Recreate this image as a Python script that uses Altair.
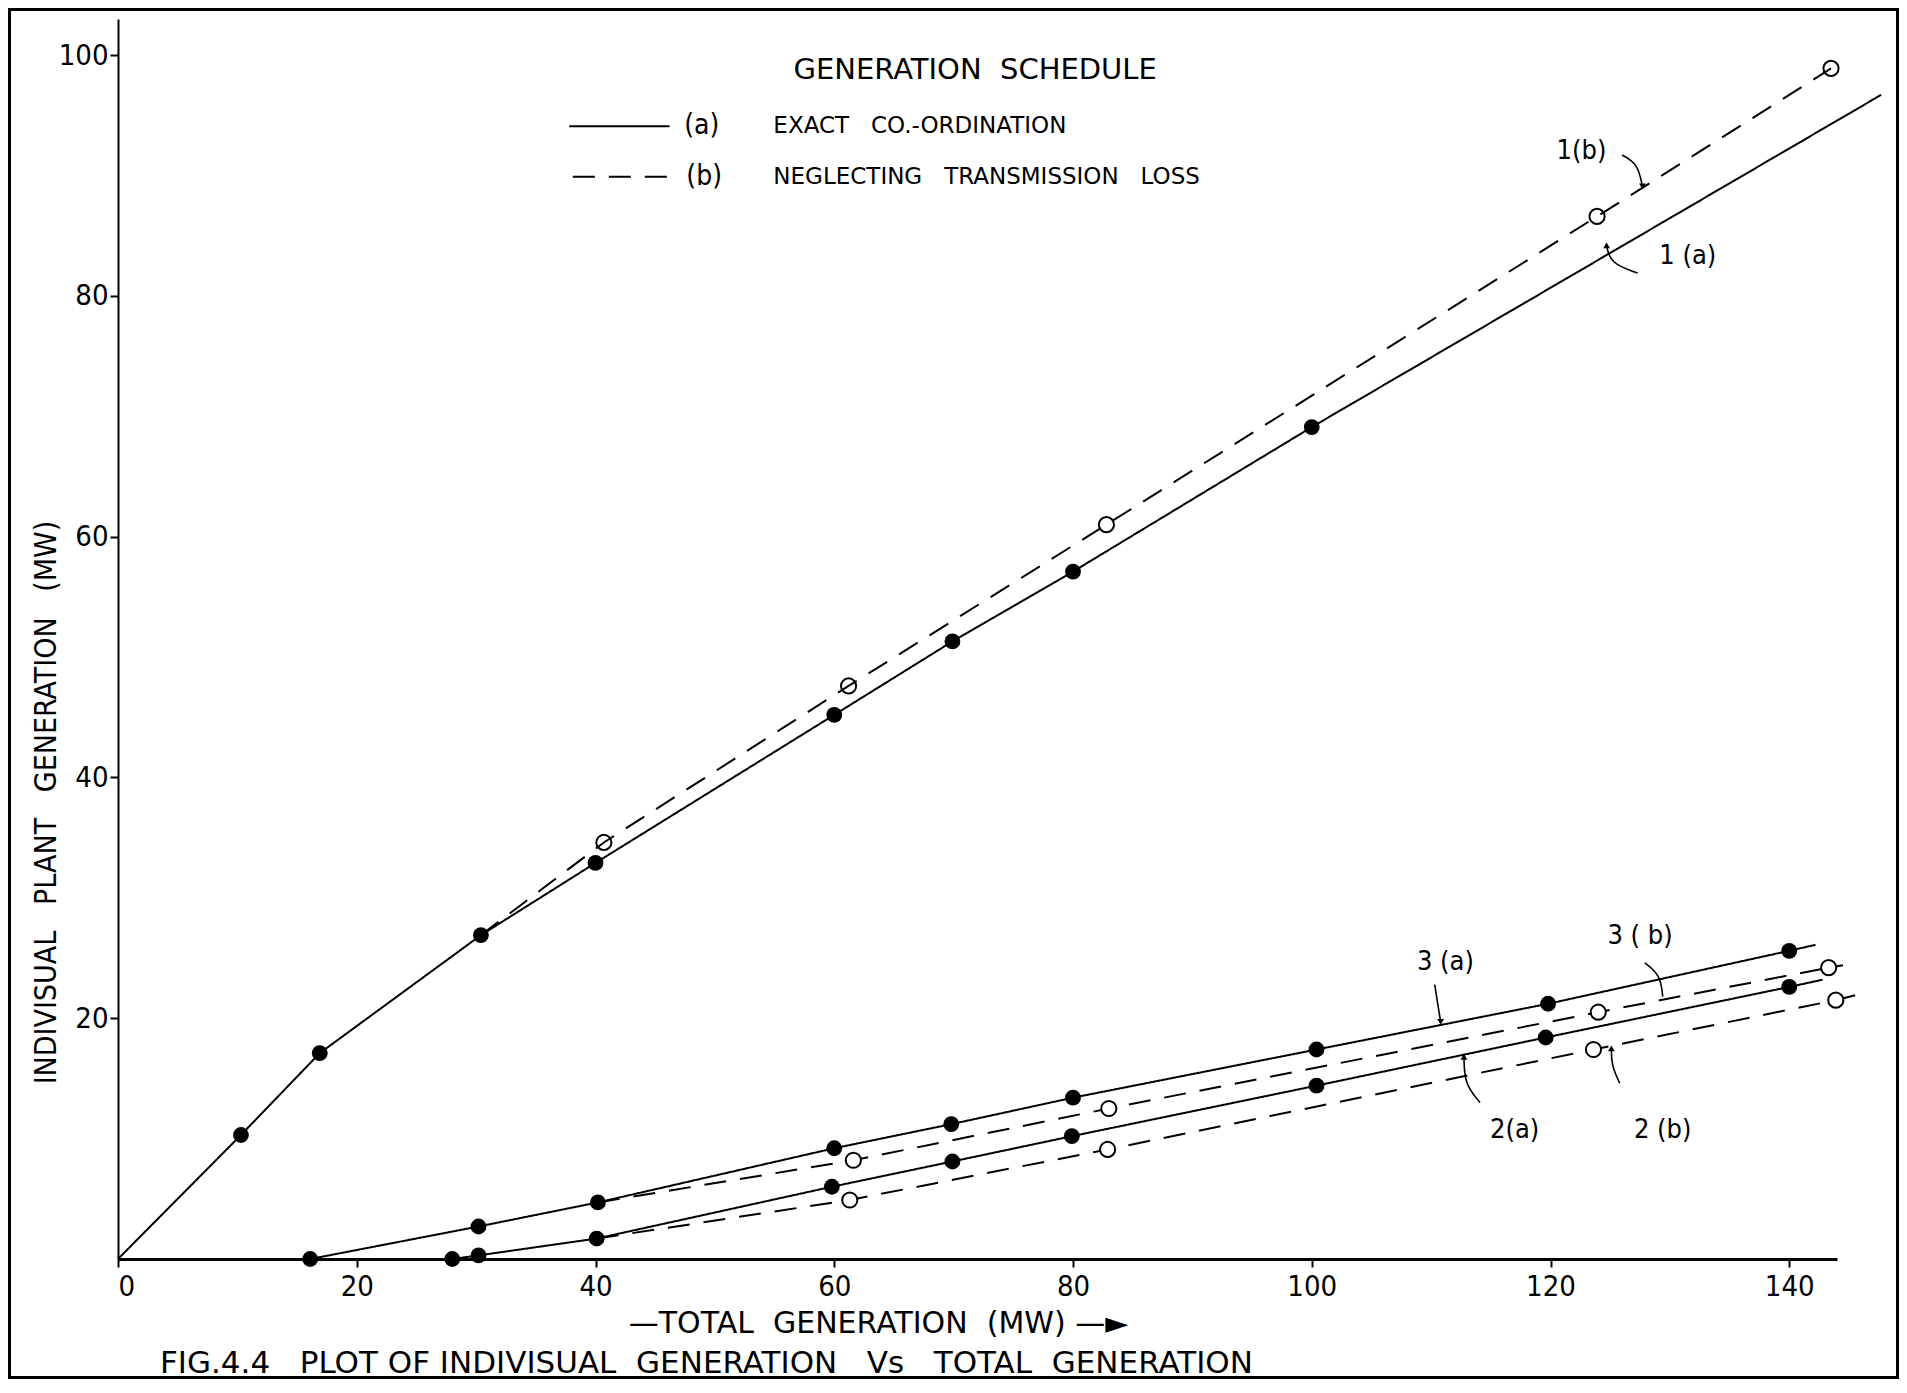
import altair as alt
import pandas as pd

# ---------------- values ----------------
x_ticks = [0, 20, 40, 60, 80, 100, 120, 140]
y_ticks = [20, 40, 60, 80, 100]

# Plant 1 (a) exact co-ordination
p1a_x = [0.0, 10.3, 16.9, 30.4, 40.0, 60.0, 69.9, 80.0, 100.0, 147.7]
p1a_y = [0.0, 10.3, 17.1, 26.9, 32.9, 45.2, 51.3, 57.1, 69.1, 96.7]
p1a_m = [False, True, True, True, True, True, True, True, True, False]
# Plant 1 (b) neglecting transmission loss
p1b_x = [30.4, 40.7, 61.2, 82.8, 123.9, 143.5]
p1b_y = [26.9, 34.6, 47.6, 61.0, 86.6, 98.9]
p1b_m = [False, True, True, True, True, True]
# Plant 2 (a)
p2a_x = [28.0, 30.2, 40.1, 59.8, 69.9, 79.9, 100.4, 119.6, 140.0, 142.8]
p2a_y = [0.0, 0.3, 1.7, 6.0, 8.1, 10.2, 14.4, 18.4, 22.6, 23.2]
p2a_m = [True, True, True, True, True, True, True, True, True, False]
# Plant 2 (b)
p2b_x = [40.1, 61.3, 82.9, 123.6, 143.9, 145.9]
p2b_y = [1.7, 4.9, 9.1, 17.4, 21.5, 22.0]
p2b_m = [False, True, True, True, True, False]
# Plant 3 (a)
p3a_x = [16.1, 30.2, 40.2, 60.0, 69.8, 80.0, 100.4, 119.8, 140.0, 142.2]
p3a_y = [0.0, 2.7, 4.7, 9.2, 11.2, 13.4, 17.4, 21.2, 25.6, 26.1]
p3a_m = [True, True, True, True, True, True, True, True, True, False]
# Plant 3 (b)
p3b_x = [40.2, 61.6, 83.0, 124.0, 143.3, 144.5]
p3b_y = [4.7, 8.2, 12.5, 20.5, 24.2, 24.4]
p3b_m = [False, True, True, True, True, False]

series_names = ["1(a)", "1(b)", "2(a)", "2(b)", "3(a)", "3(b)"]
series_method = ["a", "b", "a", "b", "a", "b"]
series_x = [p1a_x, p1b_x, p2a_x, p2b_x, p3a_x, p3b_x]
series_y = [p1a_y, p1b_y, p2a_y, p2b_y, p3a_y, p3b_y]
series_m = [p1a_m, p1b_m, p2a_m, p2b_m, p3a_m, p3b_m]

# annotation texts (anchored in data units)
curve_labels = ["1(b)", "1 (a)", "3 (a)", "3 ( b)", "2(a)", "2 (b)"]
curve_label_x = [122.6, 131.5, 111.2, 127.5, 117.0, 129.4]
curve_label_y = [92.0, 83.3, 24.7, 26.8, 10.7, 10.7]

# annotation arrows (anchored in data units)
arrow_id = ["1b", "1b", "1b", "1a", "1a", "1a", "3a", "3a", "3a",
            "3b", "3b", "3b", "2a", "2a", "2a", "2b", "2b", "2b"]
arrow_x = [126.0, 127.3, 127.7, 127.3, 125.0, 124.7, 110.3, 110.5, 110.8,
           127.9, 129.2, 129.4, 114.1, 112.8, 112.75, 125.8, 125.1, 125.1]
arrow_y = [91.7, 91.0, 89.1, 81.9, 82.7, 84.2, 22.8, 21.5, 19.7,
           24.6, 23.6, 21.8, 13.0, 14.5, 16.8, 14.6, 16.1, 17.5]
head_x = [127.7, 124.7, 110.8, 112.75, 125.1]
head_y = [89.1, 84.2, 19.7, 16.8, 17.5]
head_dir = ["down", "up", "down", "up", "up"]

NB = "\u00a0"
legend_title = "GENERATION" + NB * 2 + "SCHEDULE"
legend_tags = ["(a)", "(b)"]
legend_texts = ["EXACT" + NB * 3 + "CO.-ORDINATION",
                "NEGLECTING" + NB * 3 + "TRANSMISSION" + NB * 3 + "LOSS"]
legend_methods = ["a", "b"]
legend_line_x = [[37.8, 46.2], [38.1, 46.6]]
legend_row_y = [94.1, 89.9]
legend_tag_x = [48.9, 49.1]
legend_text_x = 54.9
legend_title_xy = (71.8, 98.8)

x_title = "\u2014TOTAL" + NB * 2 + "GENERATION" + NB * 2 + "(MW)" + NB + "\u2014\u25ba"
y_title = "INDIVISUAL" + NB * 3 + "PLANT" + NB * 3 + "GENERATION" + NB * 3 + "(MW)"
caption = ("FIG.4.4" + NB * 3 + "PLOT" + NB + "OF" + NB + "INDIVISUAL" + NB * 2 + "GENERATION"
           + NB * 3 + "Vs" + NB * 3 + "TOTAL" + NB * 2 + "GENERATION")

# ---------------- tables ----------------
rows = []
for name, meth, xs, ys, ms in zip(series_names, series_method, series_x, series_y, series_m):
    for xv, yv, mv in zip(xs, ys, ms):
        rows.append({"series": name, "method": meth, "x": xv, "y": yv, "marker": mv})
df = pd.DataFrame(rows)

leg_rows = []
for meth, xs, yv in zip(legend_methods, legend_line_x, legend_row_y):
    for xv in xs:
        leg_rows.append({"series": "leg" + meth, "method": meth, "x": xv, "y": yv})
leg_df = pd.DataFrame(leg_rows)

tag_df = pd.DataFrame({"text": legend_tags, "x": legend_tag_x, "y": legend_row_y})
ltext_df = pd.DataFrame({"text": legend_texts, "x": [legend_text_x] * 2, "y": legend_row_y})
title_df = pd.DataFrame({"text": [legend_title], "x": [legend_title_xy[0]], "y": [legend_title_xy[1]]})
clab_df = pd.DataFrame({"text": curve_labels, "x": curve_label_x, "y": curve_label_y})
arrow_df = pd.DataFrame({"id": arrow_id, "x": arrow_x, "y": arrow_y,
                         "o": list(range(len(arrow_x)))})
head_df = pd.DataFrame({"x": head_x, "y": head_y, "dir": head_dir})

# ---------------- styling ----------------
NARROW = "DejaVu Sans Condensed, Liberation Sans Narrow, DejaVu Sans, sans-serif"
WIDE = "DejaVu Sans, sans-serif"
W, H = 1719, 1240

X = alt.X("x:Q", scale=alt.Scale(domain=[0, 144], nice=False, zero=False),
          axis=alt.Axis(values=x_ticks, title=x_title, grid=False,
                        domainColor="black", domainWidth=3,
                        tickColor="black", tickWidth=2, tickSize=8,
                        labelFont=NARROW, labelFontSize=29, labelColor="black",
                        labelPadding=5,
                        titleFont=WIDE, titleFontSize=30, titleFontWeight="normal",
                        titleColor="black", titleX=760, titleY=64,
                        titleAlign="center", titleBaseline="middle"))
Y = alt.Y("y:Q", scale=alt.Scale(domain=[0, 103], nice=False, zero=False),
          axis=alt.Axis(values=y_ticks, title=y_title, grid=False,
                        domainColor="black", domainWidth=2,
                        tickColor="black", tickWidth=2, tickSize=8,
                        labelFont=NARROW, labelFontSize=29, labelColor="black",
                        labelPadding=2,
                        titleFont=NARROW, titleFontSize=30, titleFontWeight="normal",
                        titleColor="black", titleX=-71.5, titleY=783,
                        titleAngle=270, titleAlign="center", titleBaseline="middle"))

DASH = alt.StrokeDash("method:N", scale=alt.Scale(domain=["a", "b"], range=[[1, 0], [22, 14]]),
                      legend=None)

lines = alt.Chart(df).mark_line(color="black", strokeWidth=2).encode(
    x=X, y=Y, detail="series:N", strokeDash=DASH, order="x:Q")

filled_pts = alt.Chart(df).transform_filter(
    (alt.datum.marker == True) & (alt.datum.method == "a")
).mark_point(filled=True, color="black", size=250, opacity=1, shape="circle").encode(x=X, y=Y)

open_pts = alt.Chart(df).transform_filter(
    (alt.datum.marker == True) & (alt.datum.method == "b")
).mark_point(shape="circle", size=230, strokeWidth=2, color="black", opacity=1).encode(
    x=X, y=Y,
    fill=alt.condition(alt.datum.series == "1(b)", alt.value("transparent"), alt.value("white")))

leg_lines = alt.Chart(leg_df).mark_line(color="black", strokeWidth=2).encode(
    x=X, y=Y, detail="series:N", strokeDash=DASH)

title_txt = alt.Chart(title_df).mark_text(font=WIDE, fontSize=29, color="black",
                                          align="center", baseline="middle").encode(
    x=X, y=Y, text="text:N")
tag_txt = alt.Chart(tag_df).mark_text(font=NARROW, fontSize=28, color="black",
                                      align="center", baseline="middle").encode(
    x=X, y=Y, text="text:N")
leg_txt = alt.Chart(ltext_df).mark_text(font=WIDE, fontSize=23, color="black",
                                        align="left", baseline="middle").encode(
    x=X, y=Y, text="text:N")
clab_txt = alt.Chart(clab_df).mark_text(font=NARROW, fontSize=27, color="black",
                                        align="center", baseline="middle").encode(
    x=X, y=Y, text="text:N")

arrows = alt.Chart(arrow_df).mark_line(color="black", strokeWidth=1.6,
                                       interpolate="basis").encode(
    x=X, y=Y, detail="id:N", order="o:Q")
heads = alt.Chart(head_df).mark_point(filled=True, color="black", size=45, opacity=1).encode(
    x=X, y=Y,
    shape=alt.Shape("dir:N", scale=alt.Scale(domain=["down", "up"],
                                             range=["triangle-down", "triangle-up"]),
                    legend=None))

one = pd.DataFrame({"text": [caption]})
frame = alt.Chart(one).mark_rect(
    fillOpacity=0, stroke="black", strokeWidth=3).encode(
    x=alt.value(-108.5), x2=alt.value(W + 60.5), y=alt.value(-9.5), y2=alt.value(H + 118.5))

caption_txt = alt.Chart(one).mark_text(font=WIDE, fontSize=31, color="black",
                                       align="left", baseline="alphabetic").encode(
    x=alt.value(42), y=alt.value(H + 114), text="text:N")

chart = alt.layer(
    frame, lines, leg_lines, arrows, heads, filled_pts, open_pts,
    title_txt, tag_txt, leg_txt, clab_txt, caption_txt
).properties(
    width=W, height=H,
    autosize=alt.AutoSizeParams(type="none"),
    padding={"left": 110, "top": 11, "right": 62, "bottom": 120},
    background="white",
).configure_view(stroke=None)

chart.save("out.html", embed_options={"renderer": "svg", "actions": False})
